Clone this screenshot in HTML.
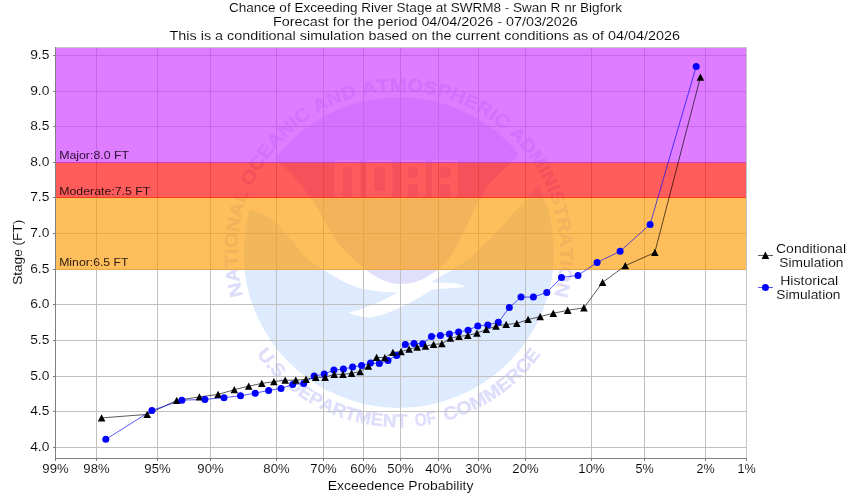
<!DOCTYPE html>
<html lang="en"><head><meta charset="utf-8"><title>Chance of Exceeding River Stage</title>
<style>html,body{margin:0;padding:0;background:#fff;}body{width:850px;height:500px;overflow:hidden;font-family:"Liberation Sans",sans-serif;}</style></head>
<body>
<svg width="850" height="500" viewBox="0 0 850 500" style="display:block;will-change:transform">
<rect x="0" y="0" width="850" height="500" fill="#fff"/>
<defs><clipPath id="pc"><rect x="56" y="48" width="690.5" height="410"/></clipPath>
<clipPath id="disc"><circle cx="398.8" cy="252.6" r="155.3"/></clipPath>
</defs>
<g clip-path="url(#pc)">
<g clip-path="url(#disc)">
<rect x="240" y="90" width="330" height="330" fill="#DEEAFD"/>
<path d="M230,205 L247.6,210.2 C255,210 268,215 277,223.4 C284,230 296,246 305,256.4 C312,263 318,267 324,269.9 C332,275 340,280 347,283.2 C355,287 363,289 370.6,290.3 C380,292 390,292.6 397.6,292.6 C385,300 365,309 348.2,312.6 C356,316 364,318 370.6,317.4 C380,316 388,313 394.1,310.3 C402,307 410,302.5 417.6,298.5 C423,295.5 427,292.5 431.8,290.3 C436,289 441,288.7 446,288.4 C453,288 460,287.4 464.9,286.4 C462,284.6 457,283.4 452,283 L430.6,282.6 C434,281 436,279 438.8,277.4 C444,274.5 449,272 453.5,269.5 C458,266.5 463,263 467.8,259.6 C473,255.5 478,251 482,246.3 C487,242 491,237.5 495.3,233 C500,228 506,222 510.6,215.9 C515,211.5 520,206.5 525,201.7 C530,196 535,190 540,183.6 L560,170 L560,80 L230,80 Z" fill="#fff"/>
<path d="M240,80 L560,80 L560,140 L520.4,152.8 C517,156 514.5,159.5 512,162.6 C505,168 498,174 492.4,180.8 C486,188 481,195.5 477.3,204.5 C474,210 471,216 468.7,221.6 C466,227 463,233 460.2,238.7 C457,245 453.5,252 449.7,257.7 C446,262.5 442,266.5 438.3,269.5 C428,278 414,284 401,284 C388,284 376,278 366.6,269.9 C363.5,267.5 360.5,265.5 358.2,263.4 C353,259 348.5,255 344.2,250.8 C339,244.5 334.5,238 330.2,231.2 C326,224 322.5,217 319,210.2 C316,205.5 312.5,200.5 309.2,196.2 C305,190 300,184 295.2,178 C290,172.5 284,167 278.4,162.6 L270,155 L240,140 Z" fill="#E0E0FD"/>
<rect x="334.7" y="159.8" width="25.8" height="38.4" rx="3" fill="#FDFDFF"/>
<rect x="343" y="167.3" width="9" height="32" rx="2.5" fill="#E0E0FD"/>
<rect x="366.1" y="159.8" width="26.4" height="38.4" rx="4" fill="#FDFDFF"/>
<rect x="374.2" y="166.6" width="10.8" height="24.8" rx="4" fill="#E0E0FD"/>
<rect x="400" y="159.8" width="25.8" height="38.4" rx="3" fill="#FDFDFF"/>
<rect x="408" y="167.3" width="10" height="10.6" rx="2.5" fill="#E0E0FD"/>
<rect x="408" y="184.3" width="10" height="15" rx="2.5" fill="#E0E0FD"/>
<rect x="432" y="159.8" width="26" height="38.4" rx="3" fill="#FDFDFF"/>
<rect x="440" y="167.3" width="10.3" height="10.6" rx="2.5" fill="#E0E0FD"/>
<rect x="440" y="184.3" width="10.3" height="15" rx="2.5" fill="#E0E0FD"/>
</g>
<g font-family="Liberation Sans, sans-serif" font-weight="bold" font-size="18.4" fill="#DEDEFC" stroke="#DEDEFC" stroke-width="0.35" text-anchor="middle">
<text transform="translate(241.37,288.61) rotate(257.12) scale(1.110,1)">N</text>
<text transform="translate(238.74,274.09) rotate(262.35) scale(1.110,1)">A</text>
<text transform="translate(237.50,260.54) rotate(267.18) scale(1.110,1)">T</text>
<text transform="translate(237.30,251.46) rotate(270.40) scale(1.110,1)">I</text>
<text transform="translate(237.74,240.69) rotate(274.23) scale(1.110,1)">O</text>
<text transform="translate(239.59,225.49) rotate(279.67) scale(1.110,1)">N</text>
<text transform="translate(242.73,211.07) rotate(284.90) scale(1.110,1)">A</text>
<text transform="translate(246.78,198.08) rotate(289.73) scale(1.110,1)">L</text>
<text transform="translate(254.62,179.84) rotate(296.78) scale(1.110,1)">O</text>
<text transform="translate(262.16,166.51) rotate(302.21) scale(1.110,1)">C</text>
<text transform="translate(270.24,154.85) rotate(307.25) scale(1.110,1)">E</text>
<text transform="translate(279.32,143.95) rotate(312.28) scale(1.110,1)">A</text>
<text transform="translate(289.73,133.50) rotate(317.52) scale(1.110,1)">N</text>
<text transform="translate(297.47,126.84) rotate(321.14) scale(1.110,1)">I</text>
<text transform="translate(305.63,120.69) rotate(324.77) scale(1.110,1)">C</text>
<text transform="translate(323.01,109.99) rotate(332.01) scale(1.110,1)">A</text>
<text transform="translate(336.34,103.67) rotate(337.25) scale(1.110,1)">N</text>
<text transform="translate(350.19,98.59) rotate(342.48) scale(1.110,1)">D</text>
<text transform="translate(370.01,93.69) rotate(349.73) scale(1.110,1)">A</text>
<text transform="translate(383.50,91.83) rotate(354.56) scale(1.110,1)">T</text>
<text transform="translate(398.22,91.10) rotate(359.79) scale(1.110,1)">M</text>
<text transform="translate(414.65,91.88) rotate(365.63) scale(1.110,1)">O</text>
<text transform="translate(429.25,94.00) rotate(370.87) scale(1.110,1)">S</text>
<text transform="translate(442.51,97.13) rotate(375.70) scale(1.110,1)">P</text>
<text transform="translate(455.99,101.56) rotate(380.74) scale(1.110,1)">H</text>
<text transform="translate(469.02,107.17) rotate(385.77) scale(1.110,1)">E</text>
<text transform="translate(481.51,113.89) rotate(390.81) scale(1.110,1)">R</text>
<text transform="translate(490.12,119.39) rotate(394.43) scale(1.110,1)">I</text>
<text transform="translate(498.35,125.43) rotate(398.06) scale(1.110,1)">C</text>
<text transform="translate(513.60,139.01) rotate(405.30) scale(1.110,1)">A</text>
<text transform="translate(523.49,149.96) rotate(410.54) scale(1.110,1)">D</text>
<text transform="translate(532.96,162.70) rotate(416.17) scale(1.110,1)">M</text>
<text transform="translate(538.94,172.34) rotate(420.20) scale(1.110,1)">I</text>
<text transform="translate(543.74,181.36) rotate(423.82) scale(1.110,1)">N</text>
<text transform="translate(547.95,190.66) rotate(427.45) scale(1.110,1)">I</text>
<text transform="translate(551.38,199.68) rotate(430.87) scale(1.110,1)">S</text>
<text transform="translate(555.16,212.17) rotate(435.50) scale(1.110,1)">T</text>
<text transform="translate(558.01,225.49) rotate(440.33) scale(1.110,1)">R</text>
<text transform="translate(559.82,240.12) rotate(445.57) scale(1.110,1)">A</text>
<text transform="translate(560.30,253.73) rotate(450.40) scale(1.110,1)">T</text>
<text transform="translate(559.98,262.80) rotate(453.62) scale(1.110,1)">I</text>
<text transform="translate(558.94,273.53) rotate(457.45) scale(1.110,1)">O</text>
<text transform="translate(556.23,288.61) rotate(462.88) scale(1.110,1)">N</text>
</g>
<g font-family="Liberation Sans, sans-serif" font-weight="bold" font-size="18.2" fill="#DEDEFC" stroke="#DEDEFC" stroke-width="0.35" text-anchor="middle">
<text transform="translate(260.97,359.62) rotate(52.17) scale(1.102,1)">U</text>
<text transform="translate(267.35,367.36) rotate(48.88) scale(1.102,1)">.</text>
<text transform="translate(273.77,374.33) rotate(45.77) scale(1.102,1)">S</text>
<text transform="translate(280.56,380.94) rotate(42.65) scale(1.102,1)">.</text>
<text transform="translate(291.62,390.31) rotate(37.89) scale(1.036,1)">D</text>
<text transform="translate(302.25,397.95) rotate(33.59) scale(1.036,1)">E</text>
<text transform="translate(312.96,404.53) rotate(29.47) scale(1.036,1)">P</text>
<text transform="translate(324.60,410.54) rotate(25.17) scale(1.036,1)">A</text>
<text transform="translate(337.13,415.84) rotate(20.69) scale(1.036,1)">R</text>
<text transform="translate(349.04,419.85) rotate(16.57) scale(1.036,1)">T</text>
<text transform="translate(362.22,423.22) rotate(12.10) scale(1.036,1)">M</text>
<text transform="translate(376.15,425.62) rotate(7.46) scale(1.036,1)">E</text>
<text transform="translate(389.19,426.84) rotate(3.16) scale(1.036,1)">N</text>
<text transform="translate(401.75,427.08) rotate(-0.97) scale(1.036,1)">T</text>
<text transform="translate(421.41,425.63) rotate(-7.45) scale(0.854,1)">O</text>
<text transform="translate(432.07,423.90) rotate(-10.99) scale(0.854,1)">F</text>
<text transform="translate(452.39,418.67) rotate(-17.88) scale(1.096,1)">C</text>
<text transform="translate(466.41,413.47) rotate(-22.80) scale(1.096,1)">O</text>
<text transform="translate(480.91,406.57) rotate(-28.07) scale(1.096,1)">M</text>
<text transform="translate(495.18,398.07) rotate(-33.53) scale(1.096,1)">M</text>
<text transform="translate(507.28,389.28) rotate(-38.44) scale(1.096,1)">E</text>
<text transform="translate(517.78,380.25) rotate(-42.99) scale(1.096,1)">R</text>
<text transform="translate(527.90,370.00) rotate(-47.72) scale(1.096,1)">C</text>
<text transform="translate(536.80,359.39) rotate(-52.27) scale(1.096,1)">E</text>
</g>
</g>
<rect x="96" y="48" width="1" height="410" fill="#C0C0C0"/>
<rect x="157" y="48" width="1" height="410" fill="#C0C0C0"/>
<rect x="210" y="48" width="1" height="410" fill="#C0C0C0"/>
<rect x="276" y="48" width="1" height="410" fill="#C0C0C0"/>
<rect x="323" y="48" width="1" height="410" fill="#C0C0C0"/>
<rect x="363" y="48" width="1" height="410" fill="#C0C0C0"/>
<rect x="400" y="48" width="1" height="410" fill="#C0C0C0"/>
<rect x="438" y="48" width="1" height="410" fill="#C0C0C0"/>
<rect x="478" y="48" width="1" height="410" fill="#C0C0C0"/>
<rect x="525" y="48" width="1" height="410" fill="#C0C0C0"/>
<rect x="591" y="48" width="1" height="410" fill="#C0C0C0"/>
<rect x="644" y="48" width="1" height="410" fill="#C0C0C0"/>
<rect x="705" y="48" width="1" height="410" fill="#C0C0C0"/>
<rect x="56" y="55" width="690.5" height="1" fill="#C0C0C0"/>
<rect x="56" y="91" width="690.5" height="1" fill="#C0C0C0"/>
<rect x="56" y="126" width="690.5" height="1" fill="#C0C0C0"/>
<rect x="56" y="162" width="690.5" height="1" fill="#C0C0C0"/>
<rect x="56" y="197" width="690.5" height="1" fill="#C0C0C0"/>
<rect x="56" y="233" width="690.5" height="1" fill="#C0C0C0"/>
<rect x="56" y="269" width="690.5" height="1" fill="#C0C0C0"/>
<rect x="56" y="304" width="690.5" height="1" fill="#C0C0C0"/>
<rect x="56" y="340" width="690.5" height="1" fill="#C0C0C0"/>
<rect x="56" y="376" width="690.5" height="1" fill="#C0C0C0"/>
<rect x="56" y="411" width="690.5" height="1" fill="#C0C0C0"/>
<rect x="56" y="447" width="690.5" height="1" fill="#C0C0C0"/>
<rect x="56" y="197" width="690.5" height="73" fill="#FF9900" fill-opacity="0.64"/>
<rect x="56" y="162" width="690.5" height="36" fill="#FF0000" fill-opacity="0.64"/>
<rect x="56" y="47.5" width="690.5" height="115.5" fill="#CC33FF" fill-opacity="0.64"/>
<rect x="55" y="47" width="692" height="1" fill="#C6C6C6"/>
<rect x="746" y="47" width="1" height="411" fill="#C6C6C6"/>
<rect x="55" y="47" width="1" height="412" fill="#808080"/>
<rect x="55" y="458" width="692" height="1" fill="#808080"/>
<rect x="53" y="55" width="2" height="1" fill="#808080"/>
<rect x="53" y="91" width="2" height="1" fill="#808080"/>
<rect x="53" y="126" width="2" height="1" fill="#808080"/>
<rect x="53" y="162" width="2" height="1" fill="#808080"/>
<rect x="53" y="197" width="2" height="1" fill="#808080"/>
<rect x="53" y="233" width="2" height="1" fill="#808080"/>
<rect x="53" y="269" width="2" height="1" fill="#808080"/>
<rect x="53" y="304" width="2" height="1" fill="#808080"/>
<rect x="53" y="340" width="2" height="1" fill="#808080"/>
<rect x="53" y="376" width="2" height="1" fill="#808080"/>
<rect x="53" y="411" width="2" height="1" fill="#808080"/>
<rect x="53" y="447" width="2" height="1" fill="#808080"/>
<rect x="55" y="459" width="1" height="2" fill="#808080"/>
<rect x="96" y="459" width="1" height="2" fill="#808080"/>
<rect x="157" y="459" width="1" height="2" fill="#808080"/>
<rect x="210" y="459" width="1" height="2" fill="#808080"/>
<rect x="276" y="459" width="1" height="2" fill="#808080"/>
<rect x="323" y="459" width="1" height="2" fill="#808080"/>
<rect x="363" y="459" width="1" height="2" fill="#808080"/>
<rect x="400" y="459" width="1" height="2" fill="#808080"/>
<rect x="438" y="459" width="1" height="2" fill="#808080"/>
<rect x="478" y="459" width="1" height="2" fill="#808080"/>
<rect x="525" y="459" width="1" height="2" fill="#808080"/>
<rect x="591" y="459" width="1" height="2" fill="#808080"/>
<rect x="644" y="459" width="1" height="2" fill="#808080"/>
<rect x="705" y="459" width="1" height="2" fill="#808080"/>
<rect x="746" y="459" width="1" height="2" fill="#808080"/>
<text x="59.2" y="158.7" font-family="Liberation Sans, sans-serif" font-size="10.2" text-anchor="start" fill="#2a1030" textLength="69.8" lengthAdjust="spacingAndGlyphs">Major:8.0 FT</text>
<text x="59.2" y="194.8" font-family="Liberation Sans, sans-serif" font-size="10.2" text-anchor="start" fill="#301010" textLength="91.2" lengthAdjust="spacingAndGlyphs">Moderate:7.5 FT</text>
<text x="59.2" y="265.8" font-family="Liberation Sans, sans-serif" font-size="10.2" text-anchor="start" fill="#302010" textLength="69.3" lengthAdjust="spacingAndGlyphs">Minor:6.5 FT</text>
<polyline points="101.6,417.9 147.2,414.4 176.7,400.4 199.4,396.9 218.1,394.4 234.3,389.7 248.7,386.2 261.8,383.4 273.9,381.7 285.2,380.2 295.8,380.2 306.0,379.3 315.7,377.3 325.1,377.3 334.2,374.3 343.0,374.3 351.6,373.3 360.1,371.6 368.4,366.1 376.6,357.4 384.8,357.6 392.9,352.4 401.0,351.6 409.1,349.1 417.2,347.1 425.4,346.1 433.6,344.4 441.9,343.7 450.4,338.2 459.0,336.4 467.8,335.4 476.9,333.2 486.3,329.5 496.0,326.2 506.2,324.5 516.8,323.5 528.1,319.5 540.2,316.6 553.3,313.3 567.7,310.3 583.9,307.8 602.6,282.4 625.3,265.7 654.8,252.5 700.4,77.2" fill="none" stroke="#000" stroke-width="0.65" stroke-opacity="1"/>
<polyline points="105.8,439.3 151.9,410.4 181.9,400.2 204.9,399.4 224.0,397.7 240.5,395.7 255.2,393.2 268.6,390.4 281.0,388.4 292.7,384.5 303.7,383.6 314.2,376.1 324.2,374.1 333.9,370.1 343.4,369.1 352.6,367.1 361.6,365.4 370.5,363.1 379.3,363.6 388.0,360.4 396.7,355.4 405.3,344.4 414.0,343.4 422.7,343.7 431.5,336.4 440.4,335.4 449.4,333.9 458.6,331.9 468.1,330.2 477.8,325.9 487.8,324.9 498.3,322.3 509.3,307.6 521.0,297.1 533.4,297.1 546.8,292.4 561.5,277.4 578.0,275.4 597.1,262.4 620.1,251.3 650.1,224.4 696.2,66.5" fill="none" stroke="#00f" stroke-width="0.65" stroke-opacity="1"/>
<path d="M101.6,414.2 L105.4,421.5 L97.8,421.5 Z" fill="#000"/>
<circle cx="105.8" cy="439.3" r="3.5" fill="#00f"/>
<path d="M147.2,410.7 L151.0,418.0 L143.4,418.0 Z" fill="#000"/>
<circle cx="151.9" cy="410.4" r="3.5" fill="#00f"/>
<path d="M176.7,396.7 L180.5,404.0 L172.9,404.0 Z" fill="#000"/>
<circle cx="181.9" cy="400.2" r="3.5" fill="#00f"/>
<path d="M199.4,393.2 L203.2,400.5 L195.6,400.5 Z" fill="#000"/>
<circle cx="204.9" cy="399.4" r="3.5" fill="#00f"/>
<path d="M218.1,390.7 L221.9,398.0 L214.3,398.0 Z" fill="#000"/>
<circle cx="224.0" cy="397.7" r="3.5" fill="#00f"/>
<path d="M234.3,386.0 L238.1,393.3 L230.5,393.3 Z" fill="#000"/>
<circle cx="240.5" cy="395.7" r="3.5" fill="#00f"/>
<path d="M248.7,382.5 L252.5,389.8 L244.9,389.8 Z" fill="#000"/>
<circle cx="255.2" cy="393.2" r="3.5" fill="#00f"/>
<path d="M261.8,379.7 L265.6,387.0 L258.0,387.0 Z" fill="#000"/>
<circle cx="268.6" cy="390.4" r="3.5" fill="#00f"/>
<path d="M273.9,378.0 L277.7,385.3 L270.1,385.3 Z" fill="#000"/>
<circle cx="281.0" cy="388.4" r="3.5" fill="#00f"/>
<path d="M285.2,376.5 L289.0,383.8 L281.4,383.8 Z" fill="#000"/>
<circle cx="292.7" cy="384.5" r="3.5" fill="#00f"/>
<path d="M295.8,376.5 L299.6,383.8 L292.0,383.8 Z" fill="#000"/>
<circle cx="303.7" cy="383.6" r="3.5" fill="#00f"/>
<path d="M306.0,375.6 L309.8,382.9 L302.2,382.9 Z" fill="#000"/>
<circle cx="314.2" cy="376.1" r="3.5" fill="#00f"/>
<path d="M315.7,373.6 L319.5,380.9 L311.9,380.9 Z" fill="#000"/>
<circle cx="324.2" cy="374.1" r="3.5" fill="#00f"/>
<path d="M325.1,373.6 L328.9,380.9 L321.3,380.9 Z" fill="#000"/>
<circle cx="333.9" cy="370.1" r="3.5" fill="#00f"/>
<path d="M334.2,370.6 L338.0,377.9 L330.4,377.9 Z" fill="#000"/>
<circle cx="343.4" cy="369.1" r="3.5" fill="#00f"/>
<path d="M343.0,370.6 L346.8,377.9 L339.2,377.9 Z" fill="#000"/>
<circle cx="352.6" cy="367.1" r="3.5" fill="#00f"/>
<path d="M351.6,369.6 L355.4,376.9 L347.8,376.9 Z" fill="#000"/>
<circle cx="361.6" cy="365.4" r="3.5" fill="#00f"/>
<path d="M360.1,367.9 L363.9,375.2 L356.3,375.2 Z" fill="#000"/>
<circle cx="370.5" cy="363.1" r="3.5" fill="#00f"/>
<path d="M368.4,362.4 L372.2,369.7 L364.6,369.7 Z" fill="#000"/>
<circle cx="379.3" cy="363.6" r="3.5" fill="#00f"/>
<path d="M376.6,353.7 L380.4,361.0 L372.8,361.0 Z" fill="#000"/>
<circle cx="388.0" cy="360.4" r="3.5" fill="#00f"/>
<path d="M384.8,353.9 L388.6,361.2 L381.0,361.2 Z" fill="#000"/>
<circle cx="396.7" cy="355.4" r="3.5" fill="#00f"/>
<path d="M392.9,348.7 L396.7,356.0 L389.1,356.0 Z" fill="#000"/>
<circle cx="405.3" cy="344.4" r="3.5" fill="#00f"/>
<path d="M401.0,347.9 L404.8,355.2 L397.2,355.2 Z" fill="#000"/>
<circle cx="414.0" cy="343.4" r="3.5" fill="#00f"/>
<path d="M409.1,345.4 L412.9,352.7 L405.3,352.7 Z" fill="#000"/>
<circle cx="422.7" cy="343.7" r="3.5" fill="#00f"/>
<path d="M417.2,343.4 L421.0,350.7 L413.4,350.7 Z" fill="#000"/>
<circle cx="431.5" cy="336.4" r="3.5" fill="#00f"/>
<path d="M425.4,342.4 L429.2,349.7 L421.6,349.7 Z" fill="#000"/>
<circle cx="440.4" cy="335.4" r="3.5" fill="#00f"/>
<path d="M433.6,340.7 L437.4,348.0 L429.8,348.0 Z" fill="#000"/>
<circle cx="449.4" cy="333.9" r="3.5" fill="#00f"/>
<path d="M441.9,340.0 L445.7,347.3 L438.1,347.3 Z" fill="#000"/>
<circle cx="458.6" cy="331.9" r="3.5" fill="#00f"/>
<path d="M450.4,334.5 L454.2,341.8 L446.6,341.8 Z" fill="#000"/>
<circle cx="468.1" cy="330.2" r="3.5" fill="#00f"/>
<path d="M459.0,332.7 L462.8,340.0 L455.2,340.0 Z" fill="#000"/>
<circle cx="477.8" cy="325.9" r="3.5" fill="#00f"/>
<path d="M467.8,331.7 L471.6,339.0 L464.0,339.0 Z" fill="#000"/>
<circle cx="487.8" cy="324.9" r="3.5" fill="#00f"/>
<path d="M476.9,329.5 L480.7,336.8 L473.1,336.8 Z" fill="#000"/>
<circle cx="498.3" cy="322.3" r="3.5" fill="#00f"/>
<path d="M486.3,325.8 L490.1,333.1 L482.5,333.1 Z" fill="#000"/>
<circle cx="509.3" cy="307.6" r="3.5" fill="#00f"/>
<path d="M496.0,322.5 L499.8,329.8 L492.2,329.8 Z" fill="#000"/>
<circle cx="521.0" cy="297.1" r="3.5" fill="#00f"/>
<path d="M506.2,320.8 L510.0,328.1 L502.4,328.1 Z" fill="#000"/>
<circle cx="533.4" cy="297.1" r="3.5" fill="#00f"/>
<path d="M516.8,319.8 L520.6,327.1 L513.0,327.1 Z" fill="#000"/>
<circle cx="546.8" cy="292.4" r="3.5" fill="#00f"/>
<path d="M528.1,315.8 L531.9,323.1 L524.3,323.1 Z" fill="#000"/>
<circle cx="561.5" cy="277.4" r="3.5" fill="#00f"/>
<path d="M540.2,312.9 L544.0,320.2 L536.4,320.2 Z" fill="#000"/>
<circle cx="578.0" cy="275.4" r="3.5" fill="#00f"/>
<path d="M553.3,309.6 L557.1,316.9 L549.5,316.9 Z" fill="#000"/>
<circle cx="597.1" cy="262.4" r="3.5" fill="#00f"/>
<path d="M567.7,306.6 L571.5,313.9 L563.9,313.9 Z" fill="#000"/>
<circle cx="620.1" cy="251.3" r="3.5" fill="#00f"/>
<path d="M583.9,304.1 L587.7,311.4 L580.1,311.4 Z" fill="#000"/>
<circle cx="650.1" cy="224.4" r="3.5" fill="#00f"/>
<path d="M602.6,278.7 L606.4,286.0 L598.8,286.0 Z" fill="#000"/>
<circle cx="696.2" cy="66.5" r="3.5" fill="#00f"/>
<path d="M625.3,262.0 L629.1,269.3 L621.5,269.3 Z" fill="#000"/>
<path d="M654.8,248.8 L658.6,256.1 L651.0,256.1 Z" fill="#000"/>
<path d="M700.4,73.5 L704.2,80.8 L696.6,80.8 Z" fill="#000"/>
<text x="229.0" y="11.9" font-family="Liberation Sans, sans-serif" font-size="12.2" text-anchor="start" fill="#000" textLength="393" lengthAdjust="spacingAndGlyphs" stroke="#fff" stroke-width="0.1">Chance of Exceeding River Stage at SWRM8 - Swan R nr Bigfork</text>
<text x="273.0" y="25.9" font-family="Liberation Sans, sans-serif" font-size="12.2" text-anchor="start" fill="#000" textLength="304.8" lengthAdjust="spacingAndGlyphs" stroke="#fff" stroke-width="0.1">Forecast for the period 04/04/2026 - 07/03/2026</text>
<text x="169.6" y="39.8" font-family="Liberation Sans, sans-serif" font-size="12.2" text-anchor="start" fill="#000" textLength="510.4" lengthAdjust="spacingAndGlyphs" stroke="#fff" stroke-width="0.1">This is a conditional simulation based on the current conditions as of 04/04/2026</text>
<text x="327.8" y="489.6" font-family="Liberation Sans, sans-serif" font-size="12.2" text-anchor="start" fill="#000" textLength="145.6" lengthAdjust="spacingAndGlyphs" stroke="#fff" stroke-width="0.1">Exceedence Probability</text>
<text transform="translate(21.6,284.8) rotate(-90)" font-family="Liberation Sans, sans-serif" font-size="12.2" textLength="65" lengthAdjust="spacingAndGlyphs" fill="#000" stroke="#fff" stroke-width="0.1">Stage (FT)</text>
<text x="30.2" y="59.3" font-family="Liberation Sans, sans-serif" font-size="12.2" text-anchor="start" fill="#000" textLength="19.2" lengthAdjust="spacingAndGlyphs" stroke="#fff" stroke-width="0.1">9.5</text>
<text x="30.2" y="95.3" font-family="Liberation Sans, sans-serif" font-size="12.2" text-anchor="start" fill="#000" textLength="19.2" lengthAdjust="spacingAndGlyphs" stroke="#fff" stroke-width="0.1">9.0</text>
<text x="30.2" y="130.3" font-family="Liberation Sans, sans-serif" font-size="12.2" text-anchor="start" fill="#000" textLength="19.2" lengthAdjust="spacingAndGlyphs" stroke="#fff" stroke-width="0.1">8.5</text>
<text x="30.2" y="166.3" font-family="Liberation Sans, sans-serif" font-size="12.2" text-anchor="start" fill="#000" textLength="19.2" lengthAdjust="spacingAndGlyphs" stroke="#fff" stroke-width="0.1">8.0</text>
<text x="30.2" y="201.3" font-family="Liberation Sans, sans-serif" font-size="12.2" text-anchor="start" fill="#000" textLength="19.2" lengthAdjust="spacingAndGlyphs" stroke="#fff" stroke-width="0.1">7.5</text>
<text x="30.2" y="237.3" font-family="Liberation Sans, sans-serif" font-size="12.2" text-anchor="start" fill="#000" textLength="19.2" lengthAdjust="spacingAndGlyphs" stroke="#fff" stroke-width="0.1">7.0</text>
<text x="30.2" y="273.3" font-family="Liberation Sans, sans-serif" font-size="12.2" text-anchor="start" fill="#000" textLength="19.2" lengthAdjust="spacingAndGlyphs" stroke="#fff" stroke-width="0.1">6.5</text>
<text x="30.2" y="308.3" font-family="Liberation Sans, sans-serif" font-size="12.2" text-anchor="start" fill="#000" textLength="19.2" lengthAdjust="spacingAndGlyphs" stroke="#fff" stroke-width="0.1">6.0</text>
<text x="30.2" y="344.3" font-family="Liberation Sans, sans-serif" font-size="12.2" text-anchor="start" fill="#000" textLength="19.2" lengthAdjust="spacingAndGlyphs" stroke="#fff" stroke-width="0.1">5.5</text>
<text x="30.2" y="380.3" font-family="Liberation Sans, sans-serif" font-size="12.2" text-anchor="start" fill="#000" textLength="19.2" lengthAdjust="spacingAndGlyphs" stroke="#fff" stroke-width="0.1">5.0</text>
<text x="30.2" y="415.3" font-family="Liberation Sans, sans-serif" font-size="12.2" text-anchor="start" fill="#000" textLength="19.2" lengthAdjust="spacingAndGlyphs" stroke="#fff" stroke-width="0.1">4.5</text>
<text x="30.2" y="451.3" font-family="Liberation Sans, sans-serif" font-size="12.2" text-anchor="start" fill="#000" textLength="19.2" lengthAdjust="spacingAndGlyphs" stroke="#fff" stroke-width="0.1">4.0</text>
<text x="42.35" y="472.8" font-family="Liberation Sans, sans-serif" font-size="12.2" text-anchor="start" fill="#000" textLength="26.3" lengthAdjust="spacingAndGlyphs" stroke="#fff" stroke-width="0.1">99%</text>
<text x="83.35" y="472.8" font-family="Liberation Sans, sans-serif" font-size="12.2" text-anchor="start" fill="#000" textLength="26.3" lengthAdjust="spacingAndGlyphs" stroke="#fff" stroke-width="0.1">98%</text>
<text x="144.35" y="472.8" font-family="Liberation Sans, sans-serif" font-size="12.2" text-anchor="start" fill="#000" textLength="26.3" lengthAdjust="spacingAndGlyphs" stroke="#fff" stroke-width="0.1">95%</text>
<text x="197.35" y="472.8" font-family="Liberation Sans, sans-serif" font-size="12.2" text-anchor="start" fill="#000" textLength="26.3" lengthAdjust="spacingAndGlyphs" stroke="#fff" stroke-width="0.1">90%</text>
<text x="263.35" y="472.8" font-family="Liberation Sans, sans-serif" font-size="12.2" text-anchor="start" fill="#000" textLength="26.3" lengthAdjust="spacingAndGlyphs" stroke="#fff" stroke-width="0.1">80%</text>
<text x="310.35" y="472.8" font-family="Liberation Sans, sans-serif" font-size="12.2" text-anchor="start" fill="#000" textLength="26.3" lengthAdjust="spacingAndGlyphs" stroke="#fff" stroke-width="0.1">70%</text>
<text x="350.35" y="472.8" font-family="Liberation Sans, sans-serif" font-size="12.2" text-anchor="start" fill="#000" textLength="26.3" lengthAdjust="spacingAndGlyphs" stroke="#fff" stroke-width="0.1">60%</text>
<text x="387.35" y="472.8" font-family="Liberation Sans, sans-serif" font-size="12.2" text-anchor="start" fill="#000" textLength="26.3" lengthAdjust="spacingAndGlyphs" stroke="#fff" stroke-width="0.1">50%</text>
<text x="425.35" y="472.8" font-family="Liberation Sans, sans-serif" font-size="12.2" text-anchor="start" fill="#000" textLength="26.3" lengthAdjust="spacingAndGlyphs" stroke="#fff" stroke-width="0.1">40%</text>
<text x="465.35" y="472.8" font-family="Liberation Sans, sans-serif" font-size="12.2" text-anchor="start" fill="#000" textLength="26.3" lengthAdjust="spacingAndGlyphs" stroke="#fff" stroke-width="0.1">30%</text>
<text x="512.35" y="472.8" font-family="Liberation Sans, sans-serif" font-size="12.2" text-anchor="start" fill="#000" textLength="26.3" lengthAdjust="spacingAndGlyphs" stroke="#fff" stroke-width="0.1">20%</text>
<text x="578.35" y="472.8" font-family="Liberation Sans, sans-serif" font-size="12.2" text-anchor="start" fill="#000" textLength="26.3" lengthAdjust="spacingAndGlyphs" stroke="#fff" stroke-width="0.1">10%</text>
<text x="635.4" y="472.8" font-family="Liberation Sans, sans-serif" font-size="12.2" text-anchor="start" fill="#000" textLength="18.2" lengthAdjust="spacingAndGlyphs" stroke="#fff" stroke-width="0.1">5%</text>
<text x="696.4" y="472.8" font-family="Liberation Sans, sans-serif" font-size="12.2" text-anchor="start" fill="#000" textLength="18.2" lengthAdjust="spacingAndGlyphs" stroke="#fff" stroke-width="0.1">2%</text>
<text x="737.4" y="472.8" font-family="Liberation Sans, sans-serif" font-size="12.2" text-anchor="start" fill="#000" textLength="18.2" lengthAdjust="spacingAndGlyphs" stroke="#fff" stroke-width="0.1">1%</text>
<line x1="758" y1="255.5" x2="773" y2="255.5" stroke="#000" stroke-width="0.65"/>
<path d="M765.4,251.6 L769.2,258.9 L761.6,258.9 Z" fill="#000"/>
<text x="776.0" y="252.7" font-family="Liberation Sans, sans-serif" font-size="12.2" text-anchor="start" fill="#000" textLength="70" lengthAdjust="spacingAndGlyphs" stroke="#fff" stroke-width="0.1">Conditional</text>
<text x="779.3" y="266.8" font-family="Liberation Sans, sans-serif" font-size="12.2" text-anchor="start" fill="#000" textLength="64.2" lengthAdjust="spacingAndGlyphs" stroke="#fff" stroke-width="0.1">Simulation</text>
<line x1="758" y1="287.5" x2="773" y2="287.5" stroke="#00f" stroke-width="0.65"/>
<circle cx="765.4" cy="287.4" r="3.5" fill="#00f"/>
<text x="780.2" y="284.9" font-family="Liberation Sans, sans-serif" font-size="12.2" text-anchor="start" fill="#000" textLength="58" lengthAdjust="spacingAndGlyphs" stroke="#fff" stroke-width="0.1">Historical</text>
<text x="776.3" y="298.8" font-family="Liberation Sans, sans-serif" font-size="12.2" text-anchor="start" fill="#000" textLength="64.2" lengthAdjust="spacingAndGlyphs" stroke="#fff" stroke-width="0.1">Simulation</text>
</svg>
</body></html>
